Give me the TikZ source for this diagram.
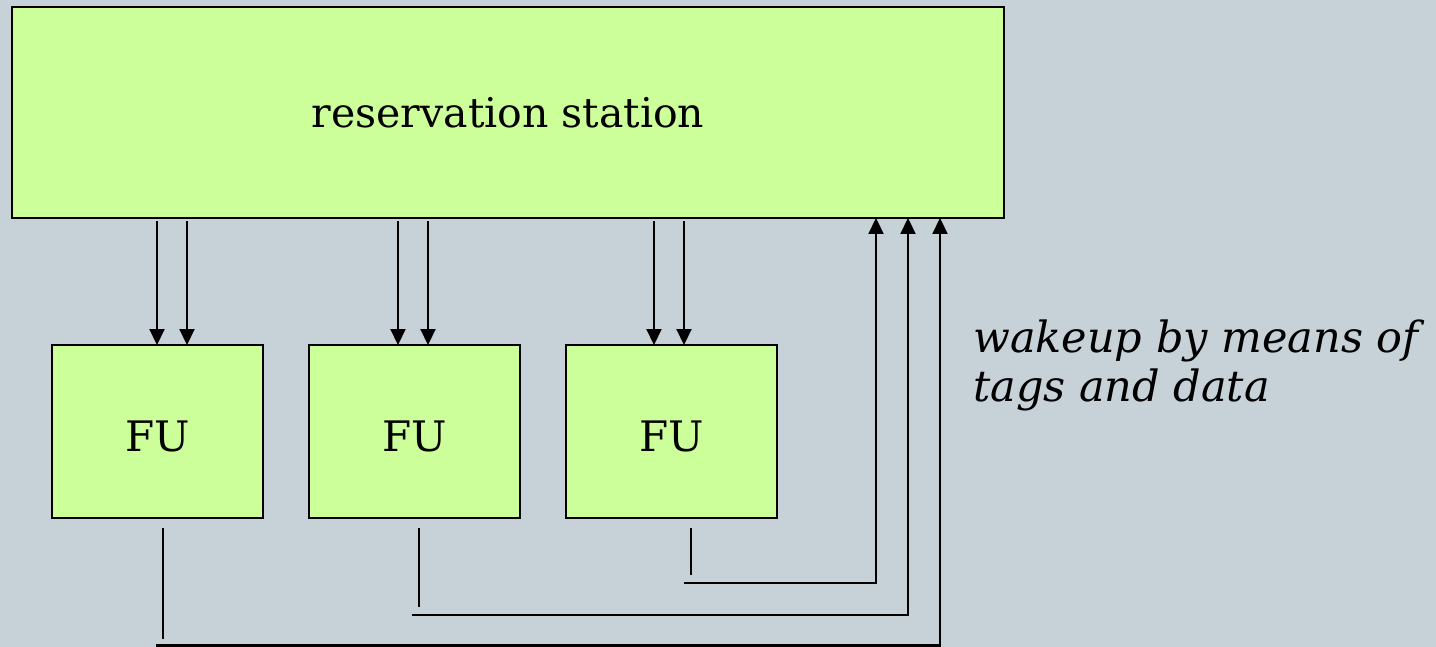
\documentclass[tikz,border=0pt]{standalone}
\usepackage{fontspec}
\setmainfont{DejaVu Serif}
\usetikzlibrary{arrows.meta}
\definecolor{bg}{HTML}{C6D1D8}
\definecolor{boxg}{HTML}{CCFF99}
\begin{document}
\begin{tikzpicture}[x=1pt,y=-1pt,
  box/.style={draw=black,fill=boxg,line width=2pt,inner sep=0pt,outer sep=0pt,anchor=north west},
  fubox/.style={box,minimum width=211pt,minimum height=173pt,text height=39pt,text depth=0pt,font=\fontsize{42}{48}\selectfont},
  arr/.style={line width=2.2pt,-{Triangle[length=16pt,width=15pt]}},
  wire/.style={line width=2.2pt},
  note/.style={anchor=base west,inner sep=0pt,font=\fontsize{43}{50}\selectfont\itshape}]
\fill[bg] (0,0) rectangle (1436,647);
\useasboundingbox (0,0) rectangle (1436,647);
\node[box,minimum width=992pt,minimum height=211pt,font=\fontsize{41}{48}\selectfont] (rs) at (12,7) {reservation station};
\node[fubox] (fu1) at (52,345) {FU};
\node[fubox] (fu2) at (309,345) {FU};
\node[fubox] (fu3) at (566,345) {FU};
% down arrow x positions
\coordinate (d1) at (157,0); \coordinate (d2) at (187,0);
\coordinate (d3) at (398,0); \coordinate (d4) at (428,0);
\coordinate (d5) at (654,0); \coordinate (d6) at (684,0);
\draw[arr] ([yshift=-3pt]rs.south -| d1) -- (fu1.north -| d1);
\draw[arr] ([yshift=-3pt]rs.south -| d2) -- (fu1.north -| d2);
\draw[arr] ([yshift=-3pt]rs.south -| d3) -- (fu2.north -| d3);
\draw[arr] ([yshift=-3pt]rs.south -| d4) -- (fu2.north -| d4);
\draw[arr] ([yshift=-3pt]rs.south -| d5) -- (fu3.north -| d5);
\draw[arr] ([yshift=-3pt]rs.south -| d6) -- (fu3.north -| d6);
% stubs
\coordinate (s1a) at (163,528); \coordinate (s1b) at (163,639);
\coordinate (s2a) at (419,528); \coordinate (s2b) at (419,607);
\coordinate (s3a) at (691,528); \coordinate (s3b) at (691,575);
\draw[wire] (s1a) -- (s1b);
\draw[wire] (s2a) -- (s2b);
\draw[wire] (s3a) -- (s3b);
% feedback wires
\coordinate (w1) at (156,645.5); \coordinate (u1) at (940,0);
\coordinate (w2) at (412,615); \coordinate (u2) at (908,0);
\coordinate (w3) at (684,583); \coordinate (u3) at (876,0);
\draw[arr] (w1) -| (rs.south -| u1);
\draw[arr] (w2) -| (rs.south -| u2);
\draw[arr] (w3) -| (rs.south -| u3);
\node[note] (wk1) at (973,352.5) {wakeup by means of};
\node[note] (wk2) at (973,401.5) {tags and data};
\end{tikzpicture}
\end{document}
